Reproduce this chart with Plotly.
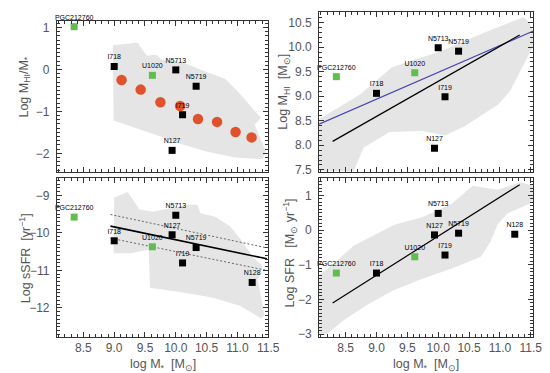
import plotly.graph_objects as go

# ---------------- data ----------------
galaxies = ["PGC212760", "I718", "U1020", "N5713", "N5719", "I719", "N127", "N128"]
is_green = [True, False, True, False, False, False, False, False]
log_mstar = [8.35, 9.0, 9.62, 10.0, 10.33, 10.11, 9.94, 11.24]
# top panels have no N128
log_hi_frac = [1.02, 0.07, -0.14, -0.01, -0.40, -1.08, -1.93, None]
log_mhi = [9.40, 9.06, 9.48, 9.99, 9.92, 8.99, 7.94, None]
log_ssfr = [-9.58, -10.21, -10.37, -9.53, -10.39, -10.80, -10.05, -11.32]
log_sfr = [-1.24, -1.24, -0.77, 0.48, -0.09, -0.72, -0.14, -0.12]

# binned relation (red circles), top-left
bin_mstar = [9.12, 9.43, 9.75, 10.07, 10.36, 10.67, 10.97, 11.23]
bin_hi_frac = [-0.25, -0.48, -0.78, -0.87, -1.18, -1.25, -1.49, -1.62]

# comparison sample envelopes (grey regions)
env1_x = [8.98, 9.38, 9.53, 9.68, 9.77, 10.11, 10.48, 10.80, 11.01, 11.22, 11.38, 11.28,
          11.46, 11.41, 10.96, 10.48, 10.11, 9.74, 9.42, 8.99]
env1_y = [0.58, 0.64, 0.33, 0.35, 0.24, 0.17, -0.05, -0.22, -0.53, -0.89, -1.15, -1.32,
          -1.95, -2.14, -2.10, -1.95, -1.79, -1.59, -1.44, -1.22]
env2_x = [8.07, 8.74, 9.24, 9.53, 10.06, 10.75, 11.38, 11.46, 11.54, 11.54, 11.46, 11.17,
          10.98, 10.43, 10.11, 9.74, 9.21, 8.79, 8.63, 8.07]
env2_y = [8.53, 9.04, 9.58, 9.71, 9.93, 10.30, 10.61, 10.53, 10.33, 10.03, 9.83, 9.12,
          8.84, 8.39, 8.20, 8.29, 8.27, 7.95, 7.47, 7.47]
env3_x = [8.99, 9.00, 9.22, 9.41, 9.63, 10.16, 10.35, 10.40, 10.64, 10.88, 11.06, 11.25,
          11.41, 11.33, 11.44, 11.38, 11.04, 10.59, 10.11, 9.58, 9.56, 9.26]
env3_y = [-10.54, -9.06, -8.91, -9.38, -9.44, -9.26, -9.25, -9.48, -9.57, -9.82, -10.18,
          -10.64, -10.89, -11.24, -12.20, -12.27, -11.94, -11.72, -11.59, -11.46, -10.45, -10.54]
env4_x = [8.07, 8.26, 8.63, 9.29, 9.74, 10.22, 10.56, 10.96, 11.33, 11.54, 11.54, 11.12,
          10.96, 10.85, 10.69, 10.22, 9.69, 9.26, 8.84, 8.47, 8.18, 8.07]
env4_y = [-1.30, -1.04, -0.45, 0.15, 0.37, 0.76, 1.28, 1.16, 1.38, 1.28, 0.81, 0.48,
          0.15, -0.33, -0.77, -1.11, -1.44, -1.75, -2.17, -2.60, -3.02, -3.02]

# fitted relations
fit_hi_x = [8.29, 11.32]
fit_hi_y = [8.08, 10.25]
ref_hi_x = [8.07, 11.54]
ref_hi_y = [8.43, 10.33]
fit_ssfr_x = [8.94, 11.48]
fit_ssfr_y = [-9.82, -10.69]
fit_ssfr_hi = [-9.51, -10.40]
fit_ssfr_lo = [-10.14, -11.00]
fit_sfr_x = [8.29, 11.32]
fit_sfr_y = [-2.10, 1.31]

# ---------------- style ----------------
GREY = "#e5e5e5"
GREEN = "#62bd4f"
RED = "#e0522b"
AX = "#333333"
TXT = "#555555"
FONT = "Liberation Sans, Arial, sans-serif"

fig = go.Figure()


def envelope(xs, ys, xa, ya):
    fig.add_trace(go.Scatter(x=xs, y=ys, mode="lines", fill="toself", fillcolor=GREY,
                             line=dict(width=0, color=GREY), hoverinfo="skip",
                             xaxis=xa, yaxis=ya, showlegend=False))


def galaxies_pts(yvals, xa, ya):
    for color_green in (False, True):
        xs, ys, ts = [], [], []
        for n, g, x, y in zip(galaxies, is_green, log_mstar, yvals):
            if y is None or g != color_green:
                continue
            xs.append(x); ys.append(y); ts.append(n)
        fig.add_trace(go.Scatter(
            x=xs, y=ys, text=ts, mode="markers+text", textposition="top center",
            textfont=dict(size=7, color="black", family=FONT),
            marker=dict(symbol="square", size=7, color=GREEN if color_green else "black",
                        line=dict(width=0)),
            xaxis=xa, yaxis=ya, showlegend=False, cliponaxis=False))


def line(xs, ys, xa, ya, color="black", width=1.2, dash="solid"):
    fig.add_trace(go.Scatter(x=xs, y=ys, mode="lines",
                             line=dict(color=color, width=width, dash=dash),
                             xaxis=xa, yaxis=ya, showlegend=False))


# top-left
envelope(env1_x, env1_y, "x", "y")
fig.add_trace(go.Scatter(x=bin_mstar, y=bin_hi_frac, mode="markers",
                         marker=dict(size=10.5, color=RED, line=dict(width=0)),
                         xaxis="x", yaxis="y", showlegend=False))
galaxies_pts(log_hi_frac, "x", "y")

# top-right
envelope(env2_x, env2_y, "x2", "y2")
line(ref_hi_x, ref_hi_y, "x2", "y2", color="#4a44b3", width=1.2)
line(fit_hi_x, fit_hi_y, "x2", "y2")
galaxies_pts(log_mhi, "x2", "y2")

# bottom-left
envelope(env3_x, env3_y, "x3", "y3")
line(fit_ssfr_x, fit_ssfr_hi, "x3", "y3", color="#666666", width=1, dash="2px,2px")
line(fit_ssfr_x, fit_ssfr_lo, "x3", "y3", color="#666666", width=1, dash="2px,2px")
line(fit_ssfr_x, fit_ssfr_y, "x3", "y3", width=1.6)
galaxies_pts(log_ssfr, "x3", "y3")

# bottom-right
envelope(env4_x, env4_y, "x4", "y4")
line(fit_sfr_x, fit_sfr_y, "x4", "y4")
galaxies_pts(log_sfr, "x4", "y4")

W, H = 550, 373
L_DOM = [50 / W, 266 / W]
R_DOM = [318 / W, 537 / W]


def ydom(top, bot):
    return [1 - bot / H, 1 - top / H]


def xaxis(dom, rng, anchor, labels):
    return dict(domain=dom, range=rng, anchor=anchor, showline=True, linecolor=AX,
                linewidth=1, mirror="ticks", ticks="inside", ticklen=5, tickcolor=AX,
                dtick=0.5, tick0=8.5, tickformat=".1f", showticklabels=labels,
                showgrid=False, zeroline=False, ticklabelstandoff=0,
                tickfont=dict(size=12, color=TXT, family=FONT),
                minor=dict(ticks="inside", ticklen=3, dtick=0.1, tickcolor=AX, showgrid=False))


def yaxis(dom, rng, anchor, dtick, mdtick, fmt):
    return dict(domain=dom, range=rng, anchor=anchor, showline=True, linecolor=AX,
                linewidth=1, mirror="ticks", ticks="inside", ticklen=5, tickcolor=AX,
                dtick=dtick, tick0=0, tickformat=fmt, showgrid=False, zeroline=False,
                ticklabelstandoff=4,
                tickfont=dict(size=12, color=TXT, family=FONT),
                minor=dict(ticks="inside", ticklen=3, dtick=mdtick, tickcolor=AX, showgrid=False))


fig.update_layout(
    width=W, height=H, margin=dict(l=0, r=0, t=0, b=0),
    paper_bgcolor="white", plot_bgcolor="white",
    xaxis=xaxis(L_DOM, [8.07, 11.5], "y", False),
    yaxis=yaxis(ydom(13, 166), [-2.44, 1.16], "x", 1, 0.1, "d"),
    xaxis2=xaxis(R_DOM, [8.07, 11.54], "y2", False),
    yaxis2=yaxis(ydom(4, 166), [7.46, 10.72], "x2", 0.5, 0.1, ".1f"),
    xaxis3=xaxis(L_DOM, [8.07, 11.5], "y3", True),
    yaxis3=yaxis(ydom(172, 333), [-12.76, -8.53], "x3", 1, 0.1, "d"),
    xaxis4=xaxis(R_DOM, [8.07, 11.54], "y4", True),
    yaxis4=yaxis(ydom(172, 333), [-3.07, 1.51], "x4", 1, 0.1, "d"),
)

tfont = dict(size=12.5, color=TXT, family=FONT)
titles = [
    ("Log M<sub>HI</sub>/M<sub>*</sub>", 17, 80, -90, "middle"),
    ("Log M<sub>HI</sub>  [M<sub>⊙</sub>]", 282, 85, -90, "middle"),
    ("Log sSFR  [yr<sup>−1</sup>]", 17, 254, -90, "middle"),
    ("Log SFR   [M<sub>⊙</sub> yr<sup>−1</sup>]", 288, 248, -90, "middle"),
    ("log M<sub>*</sub>  [M<sub>⊙</sub>]", 158, 372, 0, "bottom"),
    ("log M<sub>*</sub>  [M<sub>⊙</sub>]", 427, 372, 0, "bottom"),
]
for t, px, py, ang, ya in titles:
    fig.add_annotation(text=t, x=px / W, y=1 - py / H, xref="paper", yref="paper",
                       showarrow=False, textangle=ang, font=tfont,
                       xanchor="center", yanchor=ya)

fig.write_html("out.html")
